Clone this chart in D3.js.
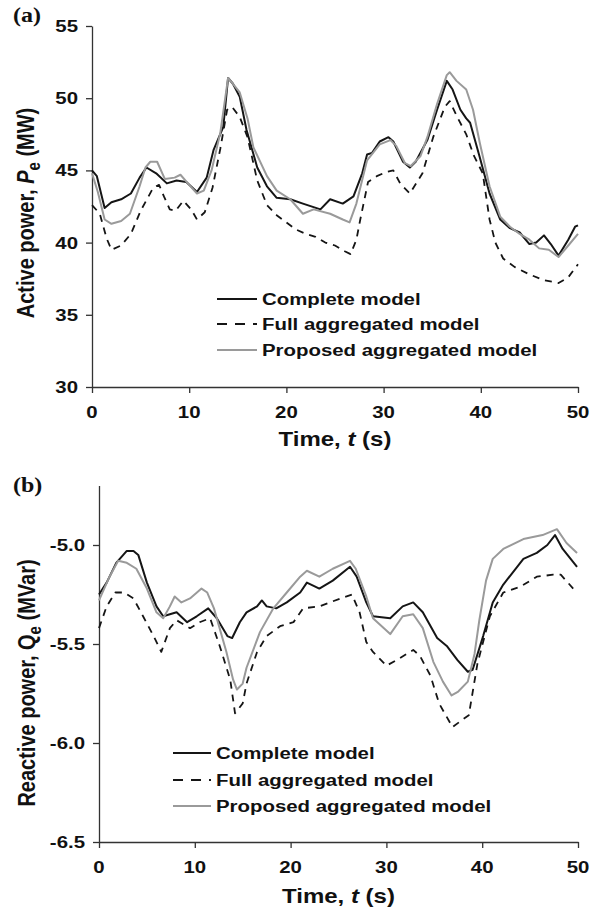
<!DOCTYPE html>
<html><head><meta charset="utf-8">
<script src="https://cdn.jsdelivr.net/npm/d3@7"></script>
<style>
html,body{margin:0;padding:0;background:#fff;}
svg text{font-family:"Liberation Sans",Arial,sans-serif;font-weight:bold;fill:#111;}
</style></head>
<body><svg id="chart" width="591" height="913"></svg>
<script>
// ---------- data: [time s, value] ----------
const seriesNames = ["Complete model", "Full aggregated model", "Proposed aggregated model"];
const xTicks = [0, 10, 20, 30, 40, 50];
const pTicks = [30, 35, 40, 45, 50, 55];
const qTicks = [-6.5, -6.0, -5.5, -5.0];

const pComplete = [[0,45.0],[0.5,44.6],[1.3,42.4],[2,42.8],[3,43.0],[4,43.4],[4.9,44.5],[5.6,45.2],[6.6,44.8],[7.7,44.1],[8.7,44.3],[9.7,44.2],[10.8,43.5],[11.8,44.5],[12.5,46.4],[13.5,48.0],[14.0,51.4],[14.5,51.0],[15.2,50.1],[15.9,47.8],[17,45.2],[18,43.9],[19,43.1],[20.4,43.0],[21.7,42.7],[23.5,42.3],[24.5,43.0],[25.8,42.7],[26.9,43.2],[27.8,44.8],[28.3,46.1],[28.8,46.2],[29.6,47.0],[30.5,47.3],[31,47.0],[32,45.6],[32.7,45.2],[33.3,45.6],[34.5,47.1],[35.5,49.2],[36.5,51.2],[37.1,50.6],[37.9,49.2],[38.5,48.6],[38.9,48.3],[39.9,45.9],[40.9,43.4],[42,41.6],[43,41.0],[44,40.7],[45,39.9],[45.7,40.0],[46.5,40.5],[47.2,39.9],[48,39.1],[49,40.2],[49.7,41.1],[50,41.2]];
const pFull = [[0,42.6],[0.8,42.0],[1.5,40.3],[2,39.5],[3,39.8],[4,40.6],[5,42.2],[6.3,43.8],[6.9,44.0],[7.4,43.2],[8.0,42.3],[8.6,42.2],[9.4,42.9],[10.2,42.3],[10.8,41.6],[11.6,42.1],[12.4,43.8],[13.2,46.5],[13.9,49.2],[14.4,49.4],[15.2,48.7],[16,47.3],[17,44.3],[18,42.6],[19,41.9],[20,41.4],[21,40.9],[22,40.6],[23,40.4],[24,40.0],[25,39.8],[26,39.4],[26.6,39.2],[27.2,40.2],[27.6,41.6],[28.4,44.2],[29.3,44.6],[30.3,44.9],[31,45.0],[31.7,44.1],[32.7,43.4],[34,44.8],[35.1,47.3],[36.3,49.4],[36.8,49.8],[37.5,48.8],[38.5,47.5],[39.3,46.0],[40.2,44.8],[40.9,41.6],[41.5,40.0],[42.3,38.9],[43.5,38.3],[45,37.8],[46.5,37.4],[48,37.2],[49,37.6],[50,38.5]];
const pProposed = [[0,44.8],[0.6,43.5],[1.3,41.6],[2,41.3],[3,41.5],[3.9,42.0],[4.9,43.9],[5.5,45.2],[6.0,45.6],[6.7,45.6],[7.5,44.4],[8.5,44.5],[9.1,44.7],[10,44.0],[10.8,43.4],[11.5,43.6],[12.3,45.0],[13.2,47.6],[14,51.4],[14.5,51.0],[15.2,50.4],[16,48.6],[16.6,46.6],[18,44.6],[19,43.6],[20.4,43.0],[21.7,42.0],[22.8,42.3],[24.5,42.0],[25.8,41.6],[26.5,41.4],[27.2,42.7],[28.3,45.7],[29.6,46.8],[30.7,47.1],[31.3,46.7],[32.2,45.5],[32.8,45.3],[33.8,46.0],[34.5,47.3],[35.5,49.6],[36.5,51.6],[36.8,51.8],[37.5,51.2],[38.5,50.6],[39.2,49.2],[39.9,46.9],[40.9,43.9],[42,41.8],[43,41.1],[44,40.6],[45,40.2],[46,39.6],[47,39.5],[48,39.0],[49,39.8],[50,40.6]];

const qComplete = [[0,-5.25],[0.8,-5.19],[1.8,-5.09],[2.9,-5.03],[3.6,-5.03],[4.1,-5.05],[5,-5.19],[6,-5.31],[6.7,-5.36],[7.4,-5.35],[8.1,-5.34],[9.2,-5.39],[10.2,-5.36],[11.4,-5.32],[12.3,-5.37],[13.4,-5.46],[13.9,-5.47],[14.7,-5.39],[15.4,-5.34],[16.5,-5.31],[17,-5.28],[17.5,-5.31],[18.5,-5.32],[19.6,-5.29],[21,-5.24],[21.7,-5.19],[23,-5.22],[24.4,-5.18],[26.2,-5.11],[26.9,-5.16],[27.9,-5.29],[28.6,-5.36],[30.4,-5.37],[31.7,-5.31],[32.8,-5.29],[33.8,-5.34],[35.3,-5.47],[36.3,-5.51],[37.4,-5.58],[38.5,-5.64],[39,-5.63],[40.1,-5.46],[41.1,-5.29],[42.2,-5.20],[44.3,-5.07],[45.7,-5.04],[46.8,-5.00],[47.6,-4.95],[48.4,-5.02],[49.9,-5.11]];
const qFull = [[0,-5.42],[0.8,-5.31],[1.7,-5.24],[2.6,-5.24],[3.6,-5.27],[4.6,-5.36],[5.7,-5.46],[6.5,-5.54],[7.4,-5.42],[8.1,-5.38],[9.5,-5.42],[10.5,-5.39],[11.6,-5.37],[12.6,-5.51],[13.7,-5.68],[14.2,-5.85],[15,-5.80],[15.4,-5.70],[16.5,-5.54],[17.5,-5.46],[18.9,-5.41],[20.3,-5.39],[21.3,-5.32],[23,-5.31],[25.2,-5.27],[26.4,-5.25],[27.2,-5.34],[27.9,-5.49],[28.6,-5.54],[30,-5.61],[31.1,-5.58],[32.8,-5.53],[33.5,-5.56],[34.6,-5.66],[35.5,-5.80],[36.9,-5.92],[38,-5.88],[38.6,-5.86],[39.5,-5.60],[40.8,-5.36],[42.2,-5.24],[44,-5.21],[45.7,-5.16],[47.4,-5.15],[48.2,-5.15],[49.5,-5.22]];
const qProposed = [[0,-5.28],[1.1,-5.16],[2,-5.08],[2.9,-5.09],[3.9,-5.12],[5,-5.22],[6,-5.34],[6.7,-5.37],[7.4,-5.31],[7.9,-5.26],[8.6,-5.29],[9.5,-5.27],[10.7,-5.22],[11.3,-5.24],[12,-5.32],[13.3,-5.54],[14,-5.68],[14.4,-5.73],[15,-5.70],[15.4,-5.62],[16.8,-5.44],[18.2,-5.32],[19.6,-5.24],[21,-5.16],[21.7,-5.13],[23,-5.16],[24.4,-5.12],[26.2,-5.08],[26.8,-5.12],[27.9,-5.26],[28.6,-5.37],[30.4,-5.45],[31.7,-5.36],[32.8,-5.35],[33.8,-5.42],[34.9,-5.59],[35.9,-5.69],[36.8,-5.76],[37.5,-5.74],[38.5,-5.69],[39.2,-5.55],[39.7,-5.38],[40.4,-5.18],[41.1,-5.07],[42.2,-5.02],[44.3,-4.97],[46.3,-4.95],[47.8,-4.92],[48.8,-4.99],[49.9,-5.04]];

// ---------- drawing ----------
const svg = d3.select("#chart");
const SX = 1.2; // horizontal stretch of the original lettering
const styles = [
  {stroke:"#151515", width:2.0, dash:null},
  {stroke:"#151515", width:1.8, dash:"7,6"},
  {stroke:"#9a9a9a", width:2.0, dash:null}
];

function label(g, x, y, anchor, size, build, rotate) {
  const t = g.append("text")
    .attr("transform", `translate(${x},${y}) scale(${SX},1)` + (rotate ? " rotate(-90)" : ""))
    .attr("text-anchor", anchor)
    .style("font-size", size + "px");
  build(t);
  return t;
}

function panel(opt) {
  const g = svg.append("g");
  const x = d3.scaleLinear().domain([0, 50]).range([opt.x0, opt.x1]);
  const y = d3.scaleLinear().domain(opt.yDomain).range([opt.yB, opt.yT]);

  // minor + major ticks
  const axX = g.append("g").attr("transform", `translate(0,${opt.yB})`);
  axX.call(d3.axisBottom(x).tickValues(d3.range(5, 50, 10)).tickSize(3).tickFormat(""));
  axX.call(d3.axisBottom(x).tickValues(xTicks).tickSize(6).tickSizeOuter(0).tickFormat(""));
  const axY = g.append("g").attr("transform", `translate(${opt.x0},0)`);
  axY.call(d3.axisLeft(y).tickValues(opt.yMinor).tickSize(3).tickFormat(""));
  axY.call(d3.axisLeft(y).tickValues(opt.yTicks).tickSize(6).tickSizeOuter(0).tickFormat(""));
  g.selectAll(".domain").attr("stroke", "#333").attr("stroke-width", 1.3);
  g.selectAll(".tick line").attr("stroke", "#333").attr("stroke-width", 1.3);

  // tick labels
  xTicks.forEach(v => label(g, x(v), opt.yB + 31, "middle", 17, t => t.text(v)));
  opt.yTicks.forEach(v => label(g, opt.x0 - 14, y(v) + 6, "end", 17, t => t.text(opt.fmt(v))));

  // axis titles
  label(g, (opt.x0 + opt.x1) / 2, opt.xTitleY, "middle", 20, t => {
    t.append("tspan").text("Time, ");
    t.append("tspan").style("font-style", "italic").text("t");
    t.append("tspan").text(" (s)");
  });
  label(g, opt.yTitleX, opt.yTitleY, "middle", 20, t => {
    t.append("tspan").text(opt.yTitle[0]);
    t.append("tspan").style("font-style", opt.italicSym ? "italic" : "normal").text(opt.yTitle[1]);
    t.append("tspan").attr("dy", 5).style("font-size", "15px").text("e");
    t.append("tspan").attr("dy", -5).text(opt.yTitle[2]);
  }, true);

  // panel letter
  label(g, 13, opt.letterY, "start", 20, t => t.style("font-family", "'Liberation Serif','Times New Roman',serif").text(opt.letter));

  // curves
  const line = d3.line().x(d => x(d[0])).y(d => y(d[1]));
  opt.data.forEach((d, i) => {
    g.append("path").datum(d)
      .attr("fill", "none")
      .attr("stroke", styles[i].stroke)
      .attr("stroke-width", styles[i].width)
      .attr("stroke-dasharray", styles[i].dash)
      .attr("stroke-linejoin", "round")
      .attr("d", line);
  });

  // legend
  seriesNames.forEach((name, i) => {
    const ry = opt.legY[i];
    g.append("line").attr("x1", opt.legX[0]).attr("x2", opt.legX[1]).attr("y1", ry).attr("y2", ry)
      .attr("stroke", styles[i].stroke).attr("stroke-width", styles[i].width)
      .attr("stroke-dasharray", styles[i].dash ? "10,8" : null);
    label(g, opt.legX[1] + 5, ry + 6, "start", 17, t => t.text(name));
  });
}

panel({
  x0: 92, x1: 578, yB: 387, yT: 26, yDomain: [30, 55],
  yTicks: pTicks, yMinor: d3.range(32.5, 55, 5), fmt: v => String(v),
  xTitleY: 446, yTitleX: 34, yTitleY: 213,
  yTitle: ["Active power, ", "P", " (MW)"], italicSym: true,
  letter: "(a)", letterY: 22,
  data: [pComplete, pFull, pProposed],
  legX: [217, 257], legY: [299, 324, 350]
});

panel({
  x0: 99, x1: 578, yB: 842, yT: 842 - 1.8 * 198, yDomain: [-6.5, -4.7],
  yTicks: qTicks, yMinor: [-6.25, -5.75, -5.25, -4.75], fmt: v => v.toFixed(1),
  xTitleY: 903, yTitleX: 35, yTitleY: 683,
  yTitle: ["Reactive power, ", "Q", " (MVar)"], italicSym: false,
  letter: "(b)", letterY: 492,
  data: [qComplete, qFull, qProposed],
  legX: [173, 211], legY: [753, 780, 806]
});
</script></body></html>
